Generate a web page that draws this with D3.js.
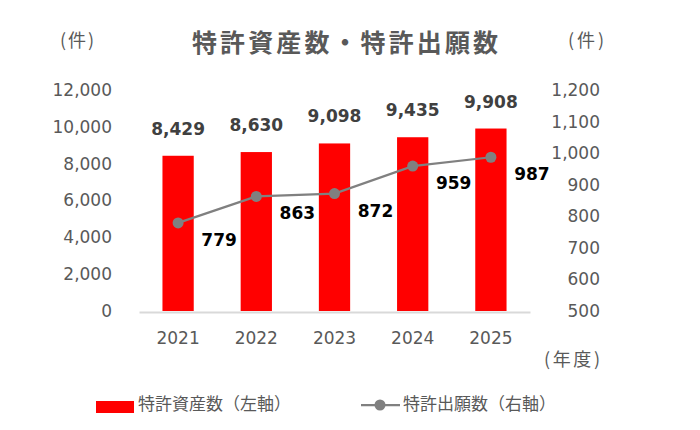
<!DOCTYPE html>
<html>
<head>
<meta charset="utf-8">
<script src="https://cdn.jsdelivr.net/npm/d3@7"></script>
<style>
  body { margin: 0; background: #fff; }
  .jp { font-family: "Noto Sans CJK JP", sans-serif; }
  .num { font-family: "DejaVu Sans", Verdana, sans-serif; }
</style>
</head>
<body>
<script>
// data
var years = ["2021", "2022", "2023", "2024", "2025"];
var assets = [8429, 8630, 9098, 9435, 9908];        // 特許資産数 (left axis)
var applications = [779, 863, 872, 959, 987];       // 特許出願数 (right axis)
var leftTicks = [0, 2000, 4000, 6000, 8000, 10000, 12000];
var rightTicks = [500, 600, 700, 800, 900, 1000, 1100, 1200];

window.onload = () => {
  var width = 700, height = 430;
  var plotLeft = 139, plotRight = 530, plotTop = 90, plotBottom = 311;
  var gray = "#595959";

  var svg = d3.select("body").append("svg")
    .attr("width", width)
    .attr("height", height);

  // scales
  var x = d3.scaleBand().domain(years)
    .range([plotLeft, plotRight])
    .paddingInner(0.6).paddingOuter(0.3);
  var yL = d3.scaleLinear().domain([0, 12000]).range([plotBottom, plotTop]);
  var yR = d3.scaleLinear().domain([500, 1200]).range([plotBottom, plotTop]);
  var fmt = d3.format(",");

  // title
  svg.append("text").attr("class", "jp")
    .attr("x", 345).attr("y", 52)
    .attr("text-anchor", "middle")
    .attr("font-size", 25).attr("font-weight", "bold")
    .attr("fill", gray)
    .attr("textLength", 306).attr("lengthAdjust", "spacing")
    .text("特許資産数・特許出願数");

  // unit labels
  svg.append("text").attr("class", "jp")
    .attr("x", 77).attr("y", 47).attr("text-anchor", "middle")
    .attr("font-size", 18).attr("fill", gray)
    .attr("textLength", 34).attr("lengthAdjust", "spacing")
    .text("(件)");
  svg.append("text").attr("class", "jp")
    .attr("x", 586).attr("y", 47).attr("text-anchor", "middle")
    .attr("font-size", 18).attr("fill", gray)
    .attr("textLength", 36).attr("lengthAdjust", "spacing")
    .text("(件)");
  svg.append("text").attr("class", "jp")
    .attr("x", 572).attr("y", 366).attr("text-anchor", "middle")
    .attr("font-size", 18).attr("fill", gray)
    .attr("textLength", 56).attr("lengthAdjust", "spacing")
    .text("(年度)");

  // left axis
  var gL = svg.append("g")
    .attr("transform", "translate(" + plotLeft + ",0)")
    .call(d3.axisLeft(yL).tickValues(leftTicks).tickFormat(fmt).tickSize(0).tickPadding(27));
  gL.select(".domain").remove();
  gL.selectAll("text").attr("class", "num").attr("font-size", 17).attr("fill", gray);

  // right axis (right aligned labels)
  var gR = svg.append("g")
    .attr("transform", "translate(" + plotRight + ",0)")
    .call(d3.axisRight(yR).tickValues(rightTicks).tickFormat(fmt).tickSize(0));
  gR.select(".domain").remove();
  gR.selectAll("text").attr("class", "num").attr("font-size", 17).attr("fill", gray)
    .attr("text-anchor", "end").attr("x", 70);

  // bars
  svg.selectAll("rect.bar")
    .data(assets)
    .enter().append("rect")
    .attr("class", "bar")
    .attr("x", (d, i) => x(years[i]))
    .attr("width", x.bandwidth())
    .attr("y", d => yL(d))
    .attr("height", d => yL(0) - yL(d))
    .attr("fill", "#ff0000");

  // bottom axis
  var gB = svg.append("g")
    .attr("transform", "translate(0," + (plotBottom + 1) + ")")
    .call(d3.axisBottom(x).tickSize(0).tickPadding(20));
  gB.select(".domain").attr("stroke", "#d9d9d9").attr("stroke-width", 2);
  gB.selectAll("text").attr("class", "num").attr("font-size", 17).attr("fill", gray);

  // bar labels
  svg.selectAll("text.barlab")
    .data(assets)
    .enter().append("text")
    .attr("class", "barlab num")
    .attr("x", (d, i) => x(years[i]) + x.bandwidth() / 2)
    .attr("y", d => yL(d) - 21)
    .attr("text-anchor", "middle")
    .attr("font-size", 17).attr("font-weight", "bold")
    .attr("fill", "#404040")
    .text(fmt);

  // line
  var line = d3.line()
    .x((d, i) => x(years[i]) + x.bandwidth() / 2)
    .y(d => yR(d));
  svg.append("path")
    .datum(applications)
    .attr("d", line)
    .attr("fill", "none")
    .attr("stroke", "#808080")
    .attr("stroke-width", 2.25);
  svg.selectAll("circle.pt")
    .data(applications)
    .enter().append("circle")
    .attr("class", "pt")
    .attr("cx", (d, i) => x(years[i]) + x.bandwidth() / 2)
    .attr("cy", d => yR(d))
    .attr("r", 5.5)
    .attr("fill", "#808080");

  // line labels
  svg.selectAll("text.ptlab")
    .data(applications)
    .enter().append("text")
    .attr("class", "ptlab num")
    .attr("x", (d, i) => x(years[i]) + x.bandwidth() / 2 + 41)
    .attr("y", d => yR(d) + 23)
    .attr("text-anchor", "middle")
    .attr("font-size", 17).attr("font-weight", "bold")
    .attr("fill", "#000")
    .text(fmt);

  // legend
  var leg = svg.append("g");
  leg.append("rect")
    .attr("x", 96).attr("y", 401).attr("width", 38).attr("height", 12)
    .attr("fill", "#ff0000");
  leg.append("text").attr("class", "jp")
    .attr("x", 138).attr("y", 410)
    .attr("font-size", 17).attr("fill", gray)
    .text("特許資産数（左軸）");
  leg.append("line")
    .attr("x1", 361).attr("x2", 400).attr("y1", 405).attr("y2", 405)
    .attr("stroke", "#808080").attr("stroke-width", 2.25);
  leg.append("circle")
    .attr("cx", 380).attr("cy", 405).attr("r", 5.5)
    .attr("fill", "#808080");
  leg.append("text").attr("class", "jp")
    .attr("x", 403).attr("y", 410)
    .attr("font-size", 17).attr("fill", gray)
    .text("特許出願数（右軸）");
};
</script>
</body>
</html>
